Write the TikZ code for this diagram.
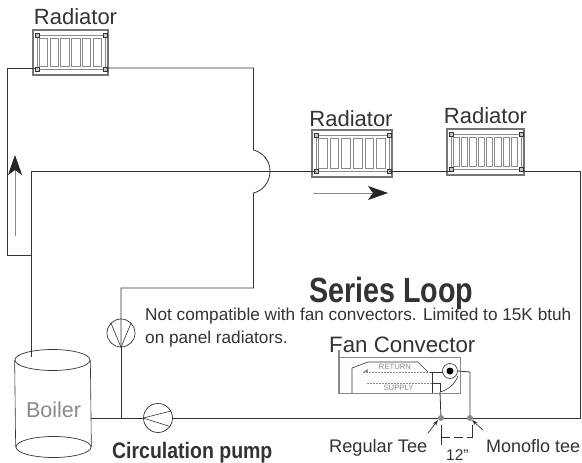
\documentclass[tikz,border=0pt]{standalone}
\usepackage{fontspec}
\setmainfont{Liberation Sans}
\usetikzlibrary{shapes.geometric,arrows.meta,calc}
\definecolor{ink}{HTML}{333333}
\definecolor{soft}{HTML}{8A8A8A}
\newcommand{\fsz}[1]{\fontsize{#1}{#1}\selectfont}
\tikzset{
  pipe/.style={draw=ink,line width=0.8pt},
  thin pipe/.style={draw=ink,line width=0.6pt},
  radbox/.style={rectangle,draw=soft!85!black,line width=2.2pt,inner sep=0pt,fill=white},
  radslat/.style={draw=soft,line width=1pt},
  radlabel/.style={text=ink,font=\fsz{22},inner sep=0pt,anchor=base},
  label/.style={text=ink,inner sep=0pt,anchor=base west},
  symbol/.style={circle,draw=ink,line width=0.7pt,inner sep=0pt,minimum size=#1,fill=white},
  flow/.style={draw=soft,line width=0.9pt,-{Stealth[length=20pt,width=14pt,inset=5pt,black!85]}},
  leader/.style={draw=ink,line width=0.7pt,-{Stealth[length=6pt,width=4pt]}},
}
\newcommand{\radiator}[6]{% name, x0, y0, x1, y1, slats
  \node[radbox,minimum width=#4pt-#2pt,minimum height=#5pt-#3pt] (#1) at ({(#2+#4)/2},{(#3+#5)/2}) {};
  \draw[radslat] (#2+4,#3+5) rectangle (#4-3,#5-6);
  \pgfmathsetmacro{\slw}{(#4-#2-10)/#6}
  \foreach \i in {1,...,#6}{
    \draw[radslat] ({#2+5+(\i-1)*\slw+\slw*0.12},#3+8) rectangle ({#2+5+\i*\slw-\slw*0.12},#5-9);
  }
  \foreach \px/\py in {#2+4/#3+5,#4-3/#3+5,#2+4/#5-6,#4-3/#5-6}{
    \draw[draw=ink,line width=0.6pt,fill=soft!50] (\px-2,\py-2) rectangle (\px+2,\py+2);
  }
}
\begin{document}
\begin{tikzpicture}[x=1pt,y=-1pt]
\useasboundingbox[fill=white] (0,0) rectangle (582,463);

% radiators
\radiator{ra}{33}{30}{108}{75}{6}
\radiator{rb}{312}{130}{392}{177}{6}
\radiator{rc}{447}{129}{524}{175}{8}
\node[radlabel] (la) at (75.5,24) {Radiator};
\node[radlabel] (lb) at (351,126) {Radiator};
\node[radlabel] (lc) at (485.5,123) {Radiator};

% named junctions
\coordinate (raL) at (35,68);
\coordinate (raR) at (106,68);
\coordinate (rbL) at (316,171);
\coordinate (rbR) at (389,171);
\coordinate (rcL) at (450,171);
\coordinate (rcR) at (522,171);
\coordinate (bypass) at (31,255);
\coordinate (mainNW) at (31,171);
\coordinate (mainNE) at (580,171);
\coordinate (mainSE) at (580,418);
\coordinate (riseTop) at (253.5,68);
\coordinate (humpA) at (253.5,150);
\coordinate (humpB) at (253.5,193);
\coordinate (riseBot) at (253.5,288);
\coordinate (ventTop) at (121,288);
\coordinate (ventBot) at (121,418);

% boiler
\node[ellipse,draw=ink,line width=0.7pt,minimum width=75pt,minimum height=21pt,inner sep=0pt] (btop) at (52.5,360) {};
\node[ellipse,draw=ink,line width=0.7pt,minimum width=75pt,minimum height=21pt,inner sep=0pt] (bbot) at (53.5,447) {};
\draw[thin pipe] (btop.west) -- (bbot.west);
\draw[thin pipe] (btop.east) -- (bbot.east);
\node[text=soft,font=\fsz{21.5},inner sep=0pt] (boiler) at (53.5,410) {Boiler};
\coordinate (bout) at (91,418);
\coordinate (bin) at (31,357);

% valve and pump
\node[symbol=28pt] (valve) at (121,333) {};
\node[symbol=29pt] (pump) at (158,418) {};
\draw[thin pipe] (valve.south) -- (valve.135);
\draw[thin pipe] (valve.south) -- (valve.45);
\draw[thin pipe] (pump.west) -- (pump.28);
\draw[thin pipe] (pump.west) -- (pump.-35);

% pipes
\draw[pipe] (raL) -| (7,255) -- (bypass);
\draw[pipe] (bin) -- (mainNW) -- (rbL);
\draw[pipe] (rbR) -- (rcL);
\draw[pipe] (rcR) -- (mainNE) -- (mainSE) -- (pump.east);
\draw[pipe] (pump.west) -- (bout);
\draw[pipe] (ventBot) -- (valve.south);
\draw[pipe] (valve.south) -- (ventTop) -- (riseBot) -- (humpB)
  .. controls (262,191) and (270,183) .. (270,171)
  .. controls (270,160) and (262,152) .. (humpA) -- (riseTop) -- (raR);

% flow arrows
\coordinate (upS) at (15,236);
\coordinate (upE) at (15,155);
\coordinate (rtS) at (313,193);
\coordinate (rtE) at (388,193);
\draw[flow] (upS) -- (upE);
\draw[flow] (rtS) -- (rtE);

% texts
\node[label,font=\bfseries\fsz{35},xscale=0.82] (title) at (309,302) {Series Loop};
\node[label,font=\fsz{17.2}] (note1) at (145,320) {Not compatible with fan convectors. Limited to 15K btuh};
\node[label,font=\fsz{17.2}] (note2) at (145,343) {on panel radiators.};
\node[label,font=\bfseries\fsz{22.4},xscale=0.87] (cp) at (112,458) {Circulation pump};
\node[label,font=\fsz{22.3}] (fc) at (329,352) {Fan Convector};
\node[label,font=\fsz{18.2}] (rt) at (329,452) {Regular Tee};
\node[label,font=\fsz{18}] (mt) at (486,452) {Monoflo tee};
\node[label,font=\fsz{15.5}] (twelve) at (446,460) {12"};

% fan convector
\node[rectangle,draw=soft,line width=0.8pt,minimum width=122pt,minimum height=36pt,inner sep=0pt] (fan) at (399,375) {};
\coordinate (stemT) at (339,350);
\coordinate (stemB) at (339,393);
\draw[draw=soft,line width=1.6pt] (stemT) -- (stemB);
\coordinate (s1) at (352,393); \coordinate (s2) at (352,368);
\coordinate (s3) at (368,362); \coordinate (s4) at (418,362);
\coordinate (s5) at (428,372);
\draw[thin pipe] (s1) -- (s2) -- (s3) -- (s4) -- (s5);
\node[circle,draw=ink,line width=0.6pt,minimum size=15pt,inner sep=0pt] (coil) at (450,371) {};
\node[circle,fill=black,minimum size=7pt,inner sep=0pt] (coilc) at (450,371) {};
\node[text=soft,font=\fsz{7.7},inner sep=0pt] (ret) at (395,367) {RETURN};
\node[text=soft,font=\fsz{7.7},inner sep=0pt] (sup) at (398.5,388) {SUPPLY};
\coordinate (retL) at (363,372); \coordinate (retM) at (430,372); \coordinate (retR) at (443,372);
\draw[draw=soft,line width=0.9pt,dash pattern=on 2pt off 1pt] (retL) -- (retM);
\draw[fill=soft,draw=none] (retL) -- ++(5,-3) -- ++(0,3) -- cycle;
\coordinate (supL) at (367,383); \coordinate (supR) at (432,383);
\draw[draw=soft,line width=0.9pt,dash pattern=on 2pt off 1pt] (supL) -- (supR);
\coordinate (boxT) at (432,372); \coordinate (boxB) at (432,393);
\draw[thin pipe] (boxT) -- (boxB);
\draw[pipe] (retM) -- (retR);
\coordinate (arcA) at (440,392); \coordinate (arcB) at (458,376);
\draw[thin pipe] (arcA) .. controls (448,390) and (455,384) .. (arcB);

% tees and connections
\coordinate (teeR) at (441,418);
\coordinate (teeM) at (470,418);
\coordinate (monoT) at (470,372);
\draw[pipe] (coil.east) -- (monoT) -- (teeM);
\draw[pipe] (arcA) -- (teeR);
\draw[pipe] (supR) -- (440,383) -- (arcA);
\fill[soft] (teeR) circle (3pt);
\fill[soft] (teeM) circle (3pt);
\coordinate (ldA) at (428,433);
\coordinate (ldB) at (483,430);
\draw[leader] (ldA) -- (438,420);
\draw[leader] (ldB) -- (472,420);

% dimension
\coordinate (dL) at (441,437);
\coordinate (dR) at (472,437);
\draw[thin pipe] (441,425) -- (441,445);
\draw[thin pipe] (472,425) -- (472,438);
\draw[thin pipe,dash pattern=on 9pt off 4pt] (dL) -- (dR);
\end{tikzpicture}
\end{document}
